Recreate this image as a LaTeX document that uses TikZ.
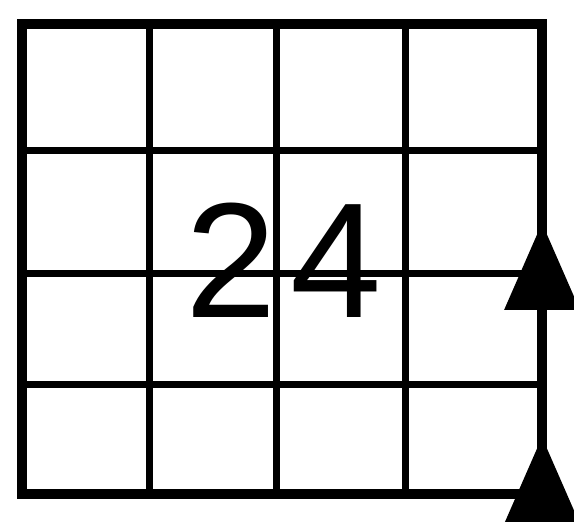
\documentclass[tikz,border=0pt]{standalone}
\usepackage{fontspec}
\setmainfont{Liberation Sans}
\usepackage{tikz}
\usetikzlibrary{arrows.meta}

\begin{document}
\begin{tikzpicture}[
  x=1pt, y=1pt,
  frame/.style={line width=9.5pt, line join=miter},
  rule/.style={line width=7pt},
  tri/.style={-{Triangle[length=87pt, width=74pt]}, line width=7pt},
  num/.style={inner sep=0pt, font=\fontsize{164}{164}\selectfont}]
  \useasboundingbox (0,0) rectangle (574,522);
  % corners of the grid
  \coordinate (sw) at (22,28);
  \coordinate (ne) at (542,498);
  % inner rules
  \foreach \x in {149,276,405}
    \draw[rule] (\x,28) -- (\x,498);
  \foreach \y in {371,248,137}
    \draw[rule] (22,\y) -- (542,\y);
  \draw[frame] (sw) rectangle (ne);
  \node[num] (val) at (284,262) {2\kern14pt 4};
  % arrows on the right edge
  \coordinate (b1) at (542,212);
  \coordinate (t1) at (542,299);
  \coordinate (b2) at (542,-2);
  \coordinate (t2) at (542,85);
  \draw[tri] (b1) -- (t1);
  \draw[tri] (b2) -- (t2);
\end{tikzpicture}
\end{document}
